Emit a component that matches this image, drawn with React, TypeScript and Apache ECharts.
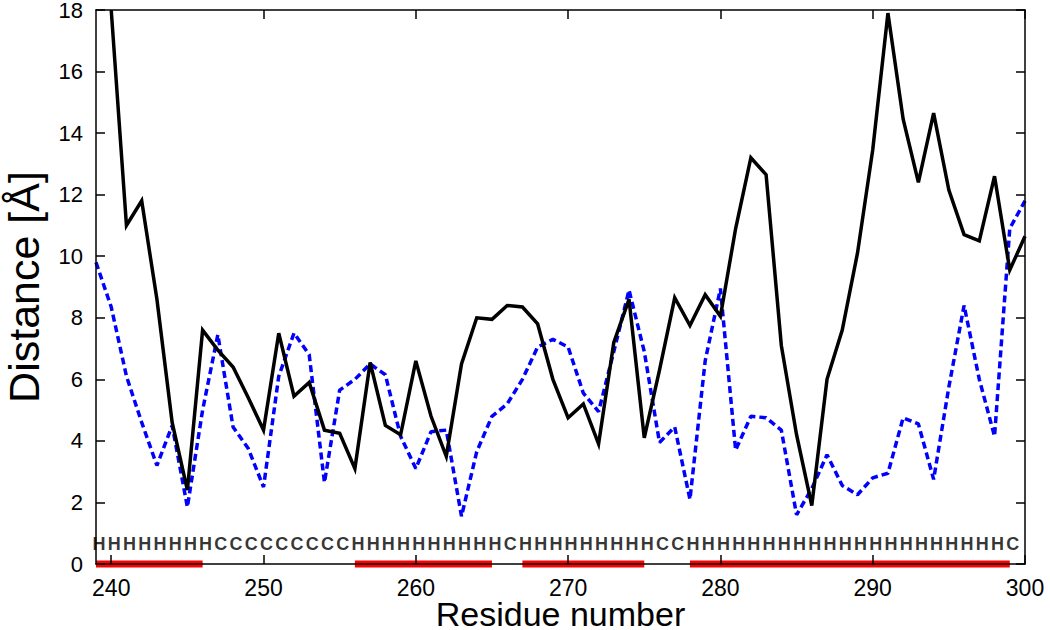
import React, { useEffect, useRef } from "react";
import * as echarts from "echarts";

const residues = [
  239, 240, 241, 242, 243, 244, 245, 246, 247, 248, 249, 250, 251, 252, 253, 254,
  255, 256, 257, 258, 259, 260, 261, 262, 263, 264, 265, 266, 267, 268, 269, 270,
  271, 272, 273, 274, 275, 276, 277, 278, 279, 280, 281, 282, 283, 284, 285, 286,
  287, 288, 289, 290, 291, 292, 293, 294, 295, 296, 297, 298, 299, 300,
];

const distanceBlack = [
  null, 18.0, 11.0, 11.8, 8.6, 4.6, 2.4, 7.6, 6.95, 6.4, 5.4, 4.35, 7.5, 5.45, 5.9, 4.35,
  4.25, 3.1, 6.55, 4.5, 4.2, 6.6, 4.8, 3.5, 6.5, 8.0, 7.95, 8.4, 8.35, 7.8, 6.0, 4.75,
  5.2, 3.9, 7.2, 8.6, 4.1, 6.3, 8.65, 7.75, 8.75, 8.05, 10.9, 13.2, 12.65, 7.1, 4.2, 1.9,
  6.0, 7.6, 10.1, 13.45, 17.9, 14.45, 12.4, 14.65, 12.15, 10.7, 10.5, 12.6, 9.55, 10.65,
];

const distanceBlue = [
  9.8, 8.35, 6.1, 4.6, 3.2, 4.5, 1.85, 5.0, 7.45, 4.45, 3.75, 2.5, 6.1, 7.5, 6.8, 2.65,
  5.65, 6.0, 6.5, 6.15, 4.15, 3.1, 4.3, 4.35, 1.55, 3.65, 4.8, 5.2, 6.0, 7.05, 7.3, 7.05,
  5.55, 4.95, 6.9, 8.9, 6.9, 3.95, 4.45, 2.1, 6.6, 8.95, 3.7, 4.8, 4.75, 4.35, 1.6, 2.45,
  3.55, 2.55, 2.25, 2.8, 2.95, 4.75, 4.55, 2.75, 5.75, 8.4, 6.0, 4.15, 10.9, 11.8,
];

// secondary structure, one letter per residue from 239 to 299
const ssFirstResidue = 239;
const ssString =
  "HHHHHHHH" + "CCCCCCCCC" + "HHHHHHHHHH" + "C" + "HHHHHHHHH" + "CC" +
  "HHHHHHHHHHHHHHHHHHHHH" + "C";
const ssLetterY = 0.65;

const helixStarts = [239, 256, 267, 278];
const helixEnds = [246, 265, 275, 299];

const xTicks = [240, 250, 260, 270, 280, 290, 300];

export default function App() {
  const ref = useRef<HTMLDivElement>(null);

  useEffect(() => {
    if (!ref.current) return;
    const chart = echarts.init(ref.current, null, { renderer: "svg" });

    const blackData = residues.map((r, i) => [r, distanceBlack[i]]);
    const blueData = residues.map((r, i) => [r, distanceBlue[i]]);
    const ssData = ssString.split("").map((c, i) => [ssFirstResidue + i, ssLetterY, c]);
    const helixData: any[] = [];
    helixStarts.forEach((s, i) => {
      helixData.push([s, 0], [helixEnds[i], 0], [helixEnds[i] + 0.5, null]);
    });

    const font = "'Liberation Sans', Arial, Helvetica, sans-serif";

    chart.setOption({
      animation: false,
      backgroundColor: "#ffffff",
      grid: { left: 96, right: 25, top: 10, bottom: 66, containLabel: false, outerBoundsMode: "none" },
      xAxis: [
        {
          type: "value",
          min: 239,
          max: 300,
          z: 5,
          name: "Residue number",
          nameLocation: "middle",
          nameGap: 37,
          nameMoveOverlap: false,
          nameTextStyle: { fontSize: 34, lineHeight: 26, color: "#000", fontFamily: font },
          axisLine: { show: true, onZero: false, lineStyle: { color: "#000", width: 1.5 } },
          axisTick: { show: true, inside: true, length: 9, customValues: xTicks, lineStyle: { color: "#000", width: 1.5 } },
          axisLabel: { show: true, customValues: xTicks, margin: 12, fontSize: 23, color: "#000", fontFamily: font },
          splitLine: { show: false },
        },
        {
          type: "value",
          position: "top",
          min: 239,
          max: 300,
          z: 5,
          axisLine: { show: true, onZero: false, lineStyle: { color: "#000", width: 1.5 } },
          axisTick: { show: true, inside: true, length: 9, customValues: xTicks, lineStyle: { color: "#000", width: 1.5 } },
          axisLabel: { show: false },
          splitLine: { show: false },
        },
      ],
      yAxis: [
        {
          type: "value",
          min: 0,
          max: 18,
          interval: 2,
          z: 5,
          name: "Distance [Å]",
          nameLocation: "middle",
          nameGap: 51,
          nameMoveOverlap: false,
          nameTextStyle: { fontSize: 43, color: "#000", fontFamily: font },
          axisLine: { show: true, onZero: false, lineStyle: { color: "#000", width: 1.5 } },
          axisTick: { show: true, inside: true, length: 9, lineStyle: { color: "#000", width: 1.5 } },
          axisLabel: { show: true, margin: 13, fontSize: 22, lineHeight: 18, color: "#000", fontFamily: font },
          splitLine: { show: false },
        },
        {
          type: "value",
          position: "right",
          min: 0,
          max: 18,
          interval: 2,
          z: 5,
          axisLine: { show: true, onZero: false, lineStyle: { color: "#000", width: 1.5 } },
          axisTick: { show: true, inside: true, length: 9, lineStyle: { color: "#000", width: 1.5 } },
          axisLabel: { show: false },
          splitLine: { show: false },
        },
      ],
      series: [
        {
          type: "line",
          name: "helix",
          data: helixData,
          showSymbol: false,
          symbol: "none",
          clip: false,
          connectNulls: false,
          z: 1,
          lineStyle: { color: "#ff0000", width: 7, cap: "butt" },
          silent: true,
        },
        {
          type: "line",
          name: "blue",
          data: blueData,
          showSymbol: false,
          symbol: "none",
          z: 3,
          lineStyle: { color: "#0000ff", width: 3.5, type: [7, 4] },
          silent: true,
        },
        {
          type: "line",
          name: "black",
          data: blackData,
          showSymbol: false,
          symbol: "none",
          z: 4,
          lineStyle: { color: "#000000", width: 3.5, join: "miter" },
          silent: true,
        },
        {
          type: "scatter",
          name: "ss",
          data: ssData,
          symbol: "circle",
          symbolSize: 0,
          z: 6,
          silent: true,
          label: {
            show: true,
            position: "inside",
            offset: [3, 0],
            formatter: (p: any) => p.value[2],
            fontSize: 18,
            fontWeight: "bold",
            color: "#000",
            fontFamily: font,
          },
        },
      ],
    });

    return () => chart.dispose();
  }, []);

  return (
    <div
      ref={ref}
      style={{ position: "fixed", left: 0, top: 0, width: 1050, height: 630, background: "#fff" }}
    />
  );
}
